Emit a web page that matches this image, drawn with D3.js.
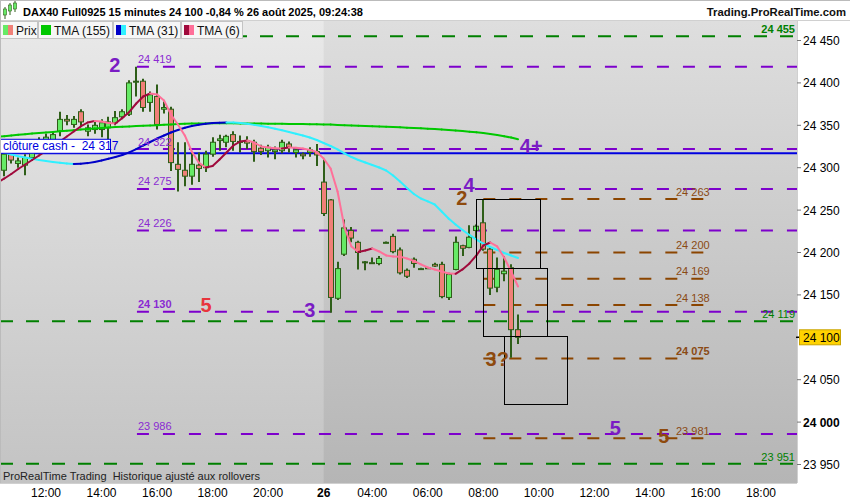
<!DOCTYPE html>
<html><head><meta charset="utf-8">
<script src="https://cdn.jsdelivr.net/npm/d3@7"></script>
<style>body{margin:0;background:#fff}svg{display:block;font-family:"Liberation Sans",Arial,sans-serif}text{white-space:pre}</style>
</head><body>
<svg id="c" width="850" height="500"></svg>
<script>
// ---------- DATA ----------
const title = "DAX40 Full0925 15 minutes 24 100 -0,84 % 26 août 2025, 09:24:38";
const brand = "Trading.ProRealTime.com";
const footer = "ProRealTime Trading  Historique ajusté aux rollovers";
const legendNames = ["Prix", "TMA (155)", "TMA (31)", "TMA (6)"];

const firstBar = -6; // bar index of first candle (index 0 = 12:00 day 25)
const opens  = [24297,24316,24305,24303,24312,24320,24330,24331,24343,24357,24351,24366,24343,24345,24345,24347,24353,24360,24363,24401,24402,24377,24384,24369,24369,24304,24297,24290,24303,24300,24316,24332,24330,24339,24330,24332,24330,24323,24320,24319,24320,24328,24318,24316,24318,24319,24283,24262,24146,24198,24226,24212,24188,24188,24187,24212,24219,24203,24179,24192,24181,24182,24186,24186,24147,24180,24208,24206,24226,24235,24204,24159,24175,24182,24109];
const highs  = [24320,24320,24312,24316,24326,24336,24340,24343,24366,24362,24361,24369,24351,24354,24357,24360,24367,24369,24403,24419,24405,24390,24398,24378,24372,24330,24330,24318,24318,24320,24336,24339,24339,24343,24338,24337,24333,24327,24327,24325,24333,24331,24324,24318,24324,24328,24310,24263,24189,24239,24230,24214,24190,24194,24196,24213,24222,24206,24181,24194,24182,24183,24188,24189,24176,24219,24209,24232,24233,24262,24207,24194,24196,24186,24127];
const lows   = [24290,24305,24300,24291,24308,24316,24325,24326,24337,24350,24347,24349,24337,24340,24336,24333,24350,24357,24361,24384,24366,24366,24345,24364,24296,24272,24278,24280,24283,24295,24313,24320,24324,24320,24318,24322,24307,24315,24312,24310,24317,24318,24312,24310,24313,24302,24243,24129,24144,24196,24212,24180,24179,24187,24185,24211,24199,24174,24170,24182,24180,24181,24183,24146,24144,24179,24196,24205,24215,24202,24150,24153,24166,24076,24092];
const closes = [24316,24309,24308,24312,24322,24330,24336,24339,24357,24355,24357,24354,24347,24350,24353,24354,24359,24366,24400,24402,24371,24386,24351,24371,24306,24298,24290,24304,24299,24316,24330,24334,24337,24331,24331,24329,24319,24319,24324,24321,24330,24324,24321,24314,24321,24315,24246,24147,24181,24229,24217,24200,24189,24188,24193,24212,24201,24176,24172,24187,24181,24182,24184,24148,24174,24212,24205,24218,24231,24204,24158,24180,24178,24109,24100];

const maFirstBar = -7;
const tma155 = [24336.5,24337.2,24338,24338.8,24339.5,24340.2,24340.9,24341.5,24342.2,24342.9,24343.6,24344.3,24345,24345.6,24346.2,24346.8,24347.4,24347.9,24348.3,24348.7,24349.1,24349.5,24349.8,24350.2,24350.6,24351,24351.4,24351.7,24352,24352.1,24352.2,24352.3,24352.3,24352.3,24352.3,24352.2,24352.2,24352.1,24352,24351.9,24351.8,24351.7,24351.6,24351.5,24351.4,24351.3,24351.1,24351,24350.8,24350.5,24350.2,24349.9,24349.6,24349.3,24349,24348.7,24348.3,24348,24347.6,24347.2,24346.8,24346.4,24346,24345.5,24345,24344.4,24343.8,24343.2,24342.5,24341.7,24340.8,24339.8,24338.6,24337.2,24335.5,24333.5];
const tma31 = [24320.3,24318,24315.6,24313.6,24312,24310.5,24309.2,24307.9,24306.7,24305.7,24305,24304.5,24304.7,24305.4,24306.7,24308.5,24310.5,24312.6,24315,24318,24322,24326.2,24330.3,24334.4,24338,24341.5,24344.5,24347.1,24349.2,24350.7,24351.9,24352.6,24353.1,24353.3,24353.2,24352.7,24351.8,24350.5,24349.1,24347.6,24346,24344.1,24342.1,24340.1,24338,24335.6,24332.7,24329.1,24325.6,24321.5,24316.8,24312.6,24309.1,24306.1,24303.2,24300.2,24296.7,24290.8,24283.7,24276.1,24269,24263.7,24260.2,24256.6,24248.4,24240.1,24233,24226.6,24220.7,24215.3,24210.6,24206.5,24203,24199.4,24196.5,24193.5];
const tma6 = [24282.2,24287.3,24292.6,24298.5,24303.8,24309.1,24314.4,24319.7,24325,24330.9,24336.8,24342.7,24348.6,24353.3,24355.1,24354.5,24352.7,24352.1,24358.6,24365.7,24375.7,24384,24387.5,24386.3,24379.2,24362.7,24350.9,24338,24319.1,24306.1,24300.2,24302,24309.7,24317.9,24326.2,24330.9,24332.1,24329.7,24325,24323.8,24322.9,24322.6,24323.8,24323.6,24322.6,24320.9,24318.5,24310.8,24299.1,24271.9,24229.5,24207.1,24200.6,24202.4,24204.7,24201.2,24196.5,24195.3,24195.1,24192.9,24190,24185.9,24182.3,24180,24177.6,24175.3,24174.9,24180,24187.1,24196.5,24208.3,24211.8,24207.1,24194.1,24177.6,24159.9];

const xTickIdx = [0,8,16,24,32,40,47,55,63,71,79,87,95,103];
const xTickLabels = ["12:00","14:00","16:00","18:00","20:00","26","04:00","06:00","08:00","10:00","12:00","14:00","16:00","18:00"];
const yTicks = [23950,24000,24050,24100,24150,24200,24250,24300,24350,24400,24450];
const sessionStartIdx = 40;
const lastPrice = 24100;

const greenLevels = [24455, 24119, 23951];
const greenBold   = [true, false, false];
const purpleLevels = [24419, 24322, 24275, 24226, 24130, 23986];
const purpleBold   = [false, false, false, false, true, false];
const purpleFrom = 13.1;
const brownLevels = [24263, 24200, 24169, 24138, 24075, 23981];
const brownBold   = [false, false, false, false, true, false];
const brownFrom = 63, brownTo = 95;
const cashLevel = 24317;
const cashLabel = "clôture cash -  24 317";

const boxStart = [62, 63, 66];
const boxEnd   = [71.2, 72.2, 75.1];
const boxTop   = [24263, 24182, 24102];
const boxBot   = [24182, 24102, 24022];

const annText  = ["2","5","3","4+","4","2","3?","5","5"];
const annIdx   = [9.9, 23.05, 38.0, 69.9, 60.95, 59.9, 65.0, 82.0, 89.0];
const annPrice = [24413.4, 24130.4, 24124.5, 24316.8, 24270.8, 24256, 24065.6, 23984.2, 23974.8];
const annKind  = ["purple","red","purple","purple","purple","brown","brown","purple","brown"];

// ---------- STYLE ----------
const C = {
  purple:"#7d00cc", purpleTxt:"#8a2ad2", purpleBig:"#7a1cc4",
  brown:"#8b4500", brownTxt:"#8a4a14", brownBig:"#8e4a0e",
  green:"#008000", red:"#e8343c", blue:"#0000e0",
  up:"#66ea66", down:"#f08078", edge:"#2e5e18",
  t155:"#00c800", t31up:"#0000c8", t31dn:"#30f0ff", t6up:"#a00a3c", t6dn:"#ff7099"
};
const fmt = v => { const s = Math.round(v).toString(); return s.slice(0, s.length-3) + " " + s.slice(-3); };

const svg = d3.select("#c");
const W = 850, H = 500, PL = 0, PR = 797, PT = 21, PB = 483;
const x = d3.scaleLinear().domain([0,103]).range([46,761]);
const y = d3.scaleLinear().domain([23950,24450]).range([464.5,40.5]);

const defs = svg.append("defs");
const g1 = defs.append("linearGradient").attr("id","bgL").attr("x1",0).attr("x2",0).attr("y1",0).attr("y2",1);
g1.append("stop").attr("offset","0%").attr("stop-color","#e9e9e9");
g1.append("stop").attr("offset","100%").attr("stop-color","#c3c3c3");
const g2 = defs.append("linearGradient").attr("id","bgR").attr("x1",0).attr("x2",0).attr("y1",0).attr("y2",1);
g2.append("stop").attr("offset","0%").attr("stop-color","#dedede");
g2.append("stop").attr("offset","100%").attr("stop-color","#b5b5b5");
defs.append("clipPath").attr("id","plotClip").append("rect").attr("x",PL).attr("y",PT).attr("width",PR-PL).attr("height",PB-PT);

svg.append("rect").attr("width",W).attr("height",H).attr("fill","#fff");
svg.append("rect").attr("x",PL).attr("y",PT).attr("width",PR-PL).attr("height",PB-PT).attr("fill","url(#bgL)");
svg.append("rect").attr("x",x(sessionStartIdx)).attr("y",PT).attr("width",PR-x(sessionStartIdx)).attr("height",PB-PT).attr("fill","url(#bgR)");

const plot = svg.append("g").attr("clip-path","url(#plotClip)");

greenLevels.forEach((p,k)=>{
  plot.append("line").attr("x1",PL).attr("x2",PR).attr("y1",y(p)).attr("y2",y(p))
    .attr("stroke",C.green).attr("stroke-width",2).attr("stroke-dasharray","13,13");
});
purpleLevels.forEach((p,k)=>{
  plot.append("line").attr("x1",x(purpleFrom)).attr("x2",PR).attr("y1",y(p)).attr("y2",y(p))
    .attr("stroke",C.purple).attr("stroke-width",2).attr("stroke-dasharray","12,14");
});
brownLevels.forEach((p,k)=>{
  plot.append("line").attr("x1",x(brownFrom)).attr("x2",x(brownTo)).attr("y1",y(p)).attr("y2",y(p))
    .attr("stroke",C.brown).attr("stroke-width",2).attr("stroke-dasharray","12,14");
});
plot.append("line").attr("x1",PL).attr("x2",PR).attr("y1",y(cashLevel)).attr("y2",y(cashLevel))
  .attr("stroke",C.blue).attr("stroke-width",2);

// candles
const bars = opens.map((o,k)=>({i:firstBar+k,o,h:highs[k],l:lows[k],c:closes[k]}));
const cg = plot.append("g");
bars.forEach(b=>{
  const cx = Math.round(x(b.i));
  cg.append("line").attr("x1",cx).attr("x2",cx).attr("y1",y(b.h)).attr("y2",y(b.l))
    .attr("stroke",C.edge).attr("stroke-width",2);
  const top = y(Math.max(b.o,b.c)), bot = y(Math.min(b.o,b.c));
  cg.append("rect").attr("x",cx-2.5).attr("y",top).attr("width",5).attr("height",Math.max(1,bot-top))
    .attr("fill", b.c>=b.o ? C.up : C.down).attr("stroke",C.edge).attr("stroke-width",1);
});

function drawMA(vals, upCol, dnCol){
  const g = plot.append("g");
  for(let k=0;k<vals.length-1;k++){
    const i0 = maFirstBar+k, i1 = i0+1;
    g.append("line").attr("x1",x(i0)).attr("y1",y(vals[k])).attr("x2",x(i1)).attr("y2",y(vals[k+1]))
      .attr("stroke", vals[k+1]>=vals[k] ? upCol : dnCol).attr("stroke-width",2).attr("stroke-linecap","round");
  }
}
drawMA(tma155, C.t155, C.t155);
drawMA(tma31, C.t31up, C.t31dn);
drawMA(tma6, C.t6up, C.t6dn);

boxStart.forEach((s,k)=>{
  plot.append("rect").attr("x",Math.round(x(s))+0.5).attr("y",Math.round(y(boxTop[k]))+0.5)
    .attr("width",Math.round(x(boxEnd[k])-x(s))).attr("height",Math.round(y(boxBot[k])-y(boxTop[k])))
    .attr("fill","none").attr("stroke","#000").attr("stroke-width",1);
});

purpleLevels.forEach((p,k)=>{
  plot.append("text").attr("x",x(purpleFrom)+1).attr("y",y(p)-3.5).attr("font-size",11)
    .attr("font-weight",purpleBold[k]?"bold":"normal").attr("fill",C.purpleTxt).text(fmt(p));
});
brownLevels.forEach((p,k)=>{
  plot.append("text").attr("x",676).attr("y",y(p)-3.5).attr("font-size",11)
    .attr("font-weight",brownBold[k]?"bold":"normal").attr("fill",C.brownTxt).text(fmt(p));
});
greenLevels.forEach((p,k)=>{
  plot.append("text").attr("x",PR-2).attr("y",y(p)-3).attr("text-anchor","end").attr("font-size",11)
    .attr("font-weight",greenBold[k]?"bold":"normal").attr("fill",C.green).text(fmt(p));
});

const annCol = {purple:C.purpleBig, red:C.red, brown:C.brownBig};
annText.forEach((t,k)=>{
  plot.append("text").attr("x",x(annIdx[k])).attr("y",y(annPrice[k])).attr("text-anchor","middle")
    .attr("font-size",20).attr("font-weight","bold").attr("fill",annCol[annKind[k]]).text(t);
});

plot.append("rect").attr("x",0.5).attr("y",y(cashLevel)-14).attr("width",110).attr("height",14)
  .attr("fill","#fff").attr("stroke",C.blue).attr("stroke-width",1);
plot.append("text").attr("x",3).attr("y",y(cashLevel)-3).attr("font-size",12).attr("fill",C.blue).text(cashLabel);

plot.append("text").attr("x",3).attr("y",480).attr("font-size",11).attr("fill","#222").text(footer);

// ---------- header ----------
svg.append("rect").attr("x",0).attr("y",0).attr("width",W).attr("height",PT).attr("fill","#fff");
svg.append("line").attr("x1",0).attr("x2",W).attr("y1",0.5).attr("y2",0.5).attr("stroke","#bbb");
svg.append("line").attr("x1",0).attr("x2",W).attr("y1",20.5).attr("y2",20.5).attr("stroke","#d0d0d0");
[[5,9,15,7,19],[10,5,11,3,15],[15,3,9,1,12]].forEach(([cx,t,b,wt,wb])=>{
  svg.append("line").attr("x1",cx).attr("x2",cx).attr("y1",wt).attr("y2",wb).attr("stroke",C.edge);
  svg.append("rect").attr("x",cx-1.5).attr("y",t).attr("width",3).attr("height",b-t).attr("fill",C.up).attr("stroke",C.edge).attr("stroke-width",0.6);
});
svg.append("text").attr("x",23).attr("y",15.5).attr("font-size",11).attr("font-weight","bold").attr("fill","#000").text(title);
svg.append("text").attr("x",846).attr("y",15.5).attr("text-anchor","end").attr("font-size",11.3).attr("font-weight","bold").attr("fill","#111").text(brand);

const lgX = [0,38,113,181], lgW = [38,75,68,62];
const lgCols = [[C.up,C.down],[C.t155,C.t155],[C.t31up,C.t31dn],[C.t6up,C.t6dn]];
legendNames.forEach((n,k)=>{
  svg.append("rect").attr("x",lgX[k]+0.5).attr("y",PT+0.5).attr("width",lgW[k]-1).attr("height",17)
    .attr("fill","#f6f6f6").attr("stroke","#c4c4c4");
  const ix = lgX[k]+3;
  svg.append("rect").attr("x",ix).attr("y",PT+4).attr("width",5).attr("height",10).attr("fill",lgCols[k][0]);
  svg.append("rect").attr("x",ix+5).attr("y",PT+4).attr("width",5).attr("height",10).attr("fill",lgCols[k][1]);
  svg.append("text").attr("x",ix+13).attr("y",PT+13.5).attr("font-size",12).attr("fill","#111").text(n);
});

// ---------- right axis ----------
svg.append("rect").attr("x",PR).attr("y",PT).attr("width",W-PR).attr("height",PB-PT).attr("fill","#fff");
svg.append("line").attr("x1",PR+0.5).attr("x2",PR+0.5).attr("y1",PT).attr("y2",PB).attr("stroke","#d0d0d0");
yTicks.forEach(v=>{
  svg.append("line").attr("x1",PR).attr("x2",PR+4).attr("y1",y(v)).attr("y2",y(v)).attr("stroke","#777");
  svg.append("text").attr("x",PR+6).attr("y",y(v)+4.5).attr("font-size",12)
    .attr("font-weight", v%1000===0 ? "bold":"normal").attr("fill","#000").text(fmt(v));
});
svg.append("line").attr("x1",PR-1).attr("x2",PR+4).attr("y1",y(lastPrice)).attr("y2",y(lastPrice)).attr("stroke","#000").attr("stroke-width",1.5);
svg.append("rect").attr("x",PR+2.5).attr("y",y(lastPrice)-7.5).attr("width",41).attr("height",15)
  .attr("fill","#ffd200").attr("stroke","#c9a400");
svg.append("text").attr("x",PR+6).attr("y",y(lastPrice)+4.5).attr("font-size",12).attr("fill","#000").text(fmt(lastPrice));

// ---------- bottom axis ----------
svg.append("rect").attr("x",0).attr("y",PB).attr("width",W).attr("height",H-PB).attr("fill","#fff");
svg.append("line").attr("x1",0).attr("x2",PR).attr("y1",PB+0.5).attr("y2",PB+0.5).attr("stroke","#d0d0d0");
xTickIdx.forEach((t,k)=>{
  svg.append("text").attr("x",x(t)).attr("y",496.5).attr("text-anchor","middle").attr("font-size",12)
    .attr("font-weight", xTickLabels[k]==="26" ? "bold":"normal").attr("fill","#000").text(xTickLabels[k]);
});
svg.append("line").attr("x1",0.5).attr("x2",0.5).attr("y1",0).attr("y2",PB).attr("stroke","#bbb");
</script>
</body></html>
